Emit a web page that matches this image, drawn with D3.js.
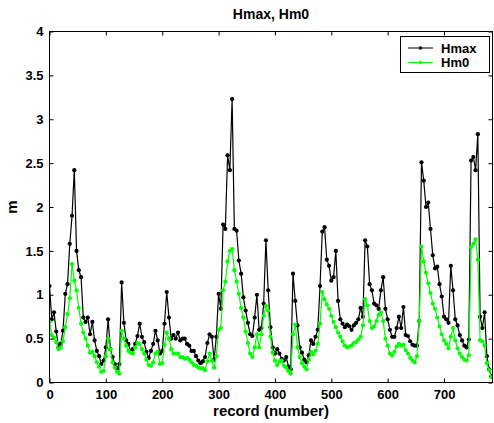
<!DOCTYPE html>
<html><head><meta charset="utf-8">
<script src="https://cdn.jsdelivr.net/npm/d3@7"></script>
<style>
body{margin:0;background:#fff}
svg{display:block}
text{font-family:"Liberation Sans",Arial,Helvetica,sans-serif;font-weight:bold;fill:#000}
</style>
</head><body>
<svg id="chart" width="494" height="423"></svg>
<script>
const title = "Hmax, Hm0";
const xLabel = "record (number)";
const yLabel = "m";
const seriesNames = ["Hmax", "Hm0"];
const seriesColors = ["#000000", "#00ff00"];
const xTicks = [0, 100, 200, 300, 400, 500, 600, 700];
const yTicks = [0, 0.5, 1, 1.5, 2, 2.5, 3, 3.5, 4];
const yTickLabels = ["0", "0.5", "1", "1.5", "2", "2.5", "3", "3.5", "4"];
const recordStep = 4;   // records sampled every 4th record
const xMax = 786;

const hmax = [
1.10,0.72,0.80,0.58,0.40,0.44,0.59,1.01,1.12,1.58,1.90,2.42,1.50,1.28,1.20,0.74,
0.69,0.74,0.55,0.69,0.48,0.36,0.30,0.21,0.25,0.40,0.72,0.38,0.29,0.21,0.16,0.21,
1.14,0.68,0.48,0.44,0.35,0.38,0.44,0.53,0.67,0.52,0.46,0.35,0.28,0.36,0.44,0.59,
0.48,0.33,0.36,0.67,1.03,0.74,0.50,0.54,0.50,0.57,0.48,0.50,0.50,0.44,0.42,0.36,
0.36,0.30,0.25,0.22,0.24,0.29,0.45,0.55,0.52,0.26,0.52,1.01,0.84,1.80,1.75,2.59,
2.42,3.23,1.75,1.73,1.39,1.24,0.97,0.82,0.68,0.55,0.53,0.74,1.00,0.60,0.62,0.90,
1.62,1.05,0.63,0.40,0.33,0.38,0.33,0.27,0.25,0.29,0.18,0.15,1.24,0.93,0.65,0.40,
0.34,0.26,0.23,0.31,0.48,0.44,0.52,0.60,1.10,1.72,1.77,1.40,1.33,1.16,1.20,1.50,
0.93,0.72,0.67,0.63,0.66,0.64,0.60,0.65,0.68,0.72,0.85,0.75,1.62,1.55,1.12,1.05,
0.90,0.88,0.84,1.05,1.20,0.84,0.72,0.60,0.52,0.52,0.62,0.75,0.62,0.86,0.54,0.53,
0.47,0.43,0.42,0.42,0.70,2.51,2.30,2.00,2.05,1.75,1.45,1.30,1.32,1.12,0.98,0.75,
0.72,0.68,1.33,1.05,0.72,0.65,0.54,0.48,0.42,0.40,0.49,2.53,2.57,2.42,2.83,0.75,
0.62,0.80,0.30,0.15,0.07
];
const hm0 = [
0.69,0.54,0.51,0.46,0.38,0.40,0.47,0.63,0.78,0.96,1.35,1.16,1.05,0.85,0.67,0.57,
0.50,0.42,0.34,0.35,0.30,0.23,0.18,0.12,0.13,0.30,0.50,0.38,0.23,0.17,0.12,0.10,
0.59,0.50,0.42,0.36,0.34,0.33,0.40,0.45,0.44,0.38,0.33,0.26,0.20,0.19,0.23,0.33,
0.35,0.21,0.22,0.43,0.57,0.50,0.38,0.33,0.33,0.33,0.29,0.29,0.27,0.28,0.26,0.23,
0.20,0.19,0.17,0.16,0.16,0.14,0.24,0.33,0.25,0.17,0.30,0.60,0.62,1.05,1.15,1.38,
1.50,1.52,1.28,1.15,1.01,0.85,0.74,0.58,0.45,0.33,0.29,0.40,0.55,0.40,0.55,0.76,
0.87,0.82,0.52,0.34,0.25,0.20,0.24,0.25,0.19,0.17,0.13,0.10,0.55,0.66,0.40,0.29,
0.22,0.18,0.15,0.26,0.35,0.32,0.36,0.44,0.67,1.03,0.95,0.89,0.84,0.76,0.69,0.63,
0.57,0.52,0.47,0.42,0.40,0.41,0.42,0.45,0.46,0.49,0.52,0.65,0.95,0.88,0.70,0.62,
0.64,0.70,0.77,0.80,0.70,0.50,0.42,0.33,0.31,0.35,0.41,0.44,0.42,0.43,0.37,0.33,
0.28,0.25,0.23,0.30,0.70,1.55,1.38,1.25,1.13,1.02,0.90,0.84,0.74,0.64,0.55,0.48,
0.44,0.39,0.52,0.62,0.48,0.39,0.33,0.29,0.26,0.25,0.31,1.54,1.58,1.63,1.40,0.48,
0.47,0.42,0.22,0.14,0.06
];

const plot = {left: 49.5, right: 492.5, top: 31.5, bottom: 382.5};
const svg = d3.select("#chart");

const x = d3.scaleLinear().domain([0, xMax]).range([plot.left, plot.right]);
const y = d3.scaleLinear().domain([0, 4]).range([plot.bottom, plot.top]);

const records = hmax.map((_, i) => i * recordStep);
const series = [hmax, hm0].map((vals, k) => ({
  name: seriesNames[k], color: seriesColors[k],
  points: vals.map((v, i) => ({r: records[i], v}))
}));

svg.append("clipPath").attr("id", "clip").append("rect")
  .attr("x", plot.left).attr("y", plot.top)
  .attr("width", plot.right - plot.left).attr("height", plot.bottom - plot.top);

const markerR = 2.1;
const line = d3.line().x(d => x(d.r)).y(d => y(d.v));
const g = svg.append("g").attr("clip-path", "url(#clip)");
series.forEach(s => {
  g.append("path").datum(s.points).attr("d", line)
    .attr("fill", "none").attr("stroke", s.color).attr("stroke-width", 1.2);
  g.selectAll(null).data(s.points).enter().append("circle")
    .attr("cx", d => x(d.r)).attr("cy", d => y(d.v)).attr("r", markerR)
    .attr("fill", s.color);
});

const fs = 13;
const ax = d3.axisBottom(x).tickValues(xTicks).tickFormat(d3.format("d")).tickSizeInner(-4).tickSizeOuter(0).tickPadding(7);
svg.append("g").attr("transform", `translate(0,${plot.bottom})`).call(ax);
const ay = d3.axisLeft(y).tickValues(yTicks).tickFormat((d, i) => yTickLabels[i]).tickSizeInner(-4).tickSizeOuter(0).tickPadding(6);
svg.append("g").attr("transform", `translate(${plot.left},0)`).call(ay);
const axT = d3.axisTop(x).tickValues(xTicks).tickFormat("").tickSizeInner(-4).tickSizeOuter(0);
svg.append("g").attr("transform", `translate(0,${plot.top})`).call(axT);
const ayR = d3.axisRight(y).tickValues(yTicks).tickFormat("").tickSizeInner(-4).tickSizeOuter(0);
svg.append("g").attr("transform", `translate(${plot.right},0)`).call(ayR);
svg.selectAll(".domain").remove();
svg.selectAll(".tick line").attr("stroke", "#000");
svg.selectAll(".tick text").style("font-size", fs + "px").style("font-family", '"Liberation Sans",Arial,sans-serif').style("font-weight", "bold").attr("fill", "#000");

svg.append("rect").attr("x", plot.left).attr("y", plot.top)
  .attr("width", plot.right - plot.left).attr("height", plot.bottom - plot.top)
  .attr("fill", "none").attr("stroke", "#000").attr("stroke-width", 1);

svg.append("text").attr("x", (plot.left + plot.right) / 2).attr("y", 18.5)
  .attr("text-anchor", "middle").style("font-size", "14px").text(title);
svg.append("text").attr("x", (plot.left + plot.right) / 2).attr("y", 416)
  .attr("text-anchor", "middle").style("font-size", "15px").text(xLabel);
svg.append("text").attr("transform", `translate(17,${(plot.top + plot.bottom) / 2}) rotate(-90)`)
  .attr("text-anchor", "middle").style("font-size", "15px").text(yLabel);

const lg = svg.append("g");
lg.append("rect").attr("x", 400.5).attr("y", 36.5).attr("width", 89).attr("height", 36)
  .attr("fill", "#fff").attr("stroke", "#000").attr("stroke-width", 1);
series.forEach((s, k) => {
  const ly = 48 + k * 14.5;
  lg.append("line").attr("x1", 408).attr("x2", 433).attr("y1", ly).attr("y2", ly)
    .attr("stroke", s.color).attr("stroke-width", 1);
  lg.append("circle").attr("cx", 420.5).attr("cy", ly).attr("r", 1.7).attr("fill", s.color);
  lg.append("text").attr("x", 441).attr("y", ly + 4.5).style("font-size", "13px").text(s.name);
});
</script>
</body></html>
